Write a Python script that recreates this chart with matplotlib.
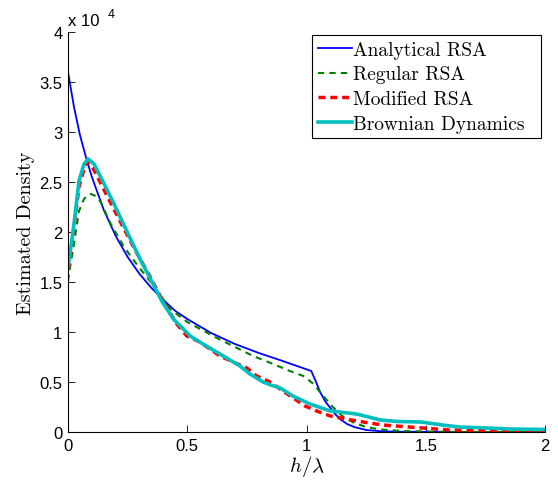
import numpy as np
import matplotlib.pyplot as plt

plt.rcParams['mathtext.fontset'] = 'cm'
plt.rcParams['axes.formatter.use_mathtext'] = True

# Density values in units of 1e4
x_ana = [0, 0.025, 0.05, 0.075, 0.1, 0.15, 0.2, 0.25, 0.3, 0.35, 0.4, 0.45, 0.5, 0.6, 0.7, 0.8, 0.9,
         1.02, 1.04, 1.057, 1.08, 1.1, 1.12, 1.14, 1.17, 1.2, 1.25, 1.31, 1.4, 2.0]
y_ana = [3.6, 3.25, 2.97, 2.75, 2.55, 2.22, 1.96, 1.75, 1.58, 1.44, 1.32, 1.21, 1.13, 0.99, 0.88, 0.79, 0.71,
         0.61, 0.50, 0.40, 0.30, 0.24, 0.18, 0.13, 0.08, 0.05, 0.02, 0.008, 0.002, 0.0]

x_reg = [0, 0.012, 0.025, 0.046, 0.067, 0.082, 0.097, 0.115, 0.137, 0.179, 0.235, 0.29, 0.35, 0.428,
         0.5, 0.616, 0.7, 0.776, 0.85, 0.93, 0.987, 1.03, 1.07, 1.11, 1.15, 1.2, 1.25, 1.31, 1.4, 1.6, 2.0]
y_reg = [1.51, 1.7, 1.88, 2.21, 2.33, 2.37, 2.38, 2.36, 2.3, 2.08, 1.85, 1.67, 1.49, 1.23,
         1.1, 0.95, 0.85, 0.76, 0.69, 0.61, 0.56, 0.48, 0.36, 0.25, 0.16, 0.09, 0.05, 0.025, 0.01, 0.0, 0.0]

x_mod = [0, 0.012, 0.025, 0.046, 0.067, 0.081, 0.095, 0.109, 0.164, 0.22, 0.277, 0.34, 0.386, 0.456,
         0.498, 0.553, 0.637, 0.692, 0.75, 0.791, 0.847, 0.938, 0.994, 1.043, 1.1, 1.21, 1.32, 1.43,
         1.6, 1.8, 2.0]
y_mod = [1.62, 1.8, 2.05, 2.45, 2.63, 2.70, 2.68, 2.62, 2.36, 2.10, 1.84, 1.57, 1.36, 1.08,
         0.96, 0.90, 0.76, 0.70, 0.64, 0.56, 0.50, 0.35, 0.26, 0.21, 0.16, 0.11, 0.07, 0.05,
         0.02, 0.012, 0.01]

x_bd = [0, 0.012, 0.025, 0.046, 0.067, 0.084, 0.109, 0.137, 0.193, 0.25, 0.302, 0.35, 0.393, 0.442,
        0.512, 0.58, 0.651, 0.721, 0.763, 0.818, 0.85, 0.89, 0.943, 1.015, 1.1, 1.21, 1.26, 1.31, 1.38,
        1.48, 1.57, 1.64, 1.75, 1.85, 2.0]
y_bd = [1.65, 1.85, 2.08, 2.51, 2.68, 2.73, 2.68, 2.55, 2.28, 1.99, 1.73, 1.51, 1.31, 1.13,
        0.96, 0.86, 0.76, 0.66, 0.58, 0.50, 0.47, 0.44, 0.36, 0.28, 0.21, 0.18, 0.15, 0.12, 0.105,
        0.10, 0.07, 0.05, 0.04, 0.03, 0.025]

labels = ['Analytical RSA', 'Regular RSA', 'Modified RSA', 'Brownian Dynamics']
xticks = [0, 0.5, 1, 1.5, 2]
yticks = [0, 0.5, 1, 1.5, 2, 2.5, 3, 3.5, 4]

fig = plt.figure(figsize=(5.58, 4.81), dpi=100)
ax = fig.add_axes([0.1219, 0.0998, 0.8548, 0.8316])

ax.plot(x_ana, y_ana, color='#0000ff', lw=1.3, label=labels[0])
ax.plot(x_reg, y_reg, color='#008000', lw=1.5, ls=(0, (3, 2.5)), label=labels[1])
ax.plot(x_mod, y_mod, color='#ff0000', lw=2.5, ls=(0, (2, 1.4)), label=labels[2])
ax.plot(x_bd, y_bd, color='#00bfbf', lw=2.6, label=labels[3])

ax.set_xlim(0, 2)
ax.set_ylim(0, 4)
ax.set_xticks(xticks)
ax.set_yticks(yticks)
ax.set_xticklabels([f'{t:g}' for t in xticks], family='Liberation Sans', fontsize=12)
ax.set_yticklabels([f'{t:g}' for t in yticks], family='Liberation Sans', fontsize=12)
ax.tick_params(direction='in', length=5, width=0.6, pad=4)
for s in ['top', 'right']:
    ax.spines[s].set_visible(False)
for s in ['left', 'bottom']:
    ax.spines[s].set_linewidth(0.8)

ax.set_xlabel(r'$h/\lambda$', fontsize=15, labelpad=0)
ax.set_ylabel('Estimated Density', family='cmr10', fontsize=14.5, labelpad=3)

ax.text(0.0, 1.01, 'x 10', transform=ax.transAxes, family='Liberation Sans', fontsize=12,
        ha='left', va='bottom')
ax.text(0.084, 1.03, '4', transform=ax.transAxes, family='Liberation Sans', fontsize=9,
        ha='left', va='bottom')

leg = ax.legend(loc='upper left', bbox_to_anchor=(0.5115, 0, 0.480, 0.9925), mode='expand',
                prop={'family': 'cmr10', 'size': 14}, fancybox=False,
                edgecolor='black', framealpha=1, handlelength=1.75, handletextpad=0.08,
                labelspacing=0.34, borderpad=0.3, borderaxespad=0)
leg.get_frame().set_linewidth(0.8)

fig.savefig('out.png', dpi=100)
